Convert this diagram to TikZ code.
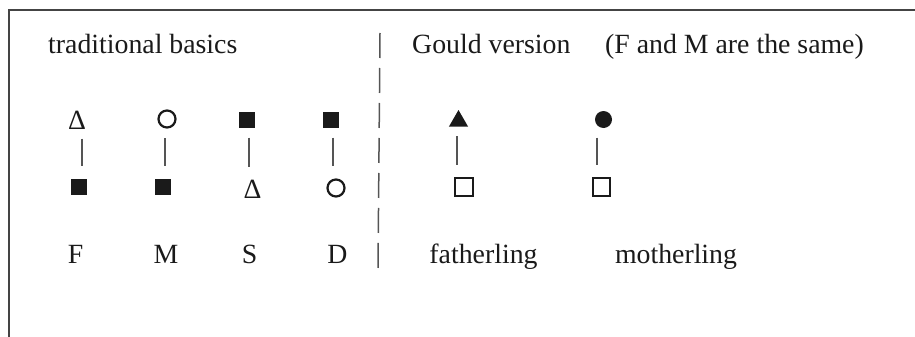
\documentclass[tikz,border=0pt]{standalone}
\usepackage{fontspec}
\setmainfont{Liberation Serif}
\usetikzlibrary{shapes.geometric}
\definecolor{ink}{HTML}{1A1A1A}
\definecolor{rule}{HTML}{444444}
\definecolor{conn}{HTML}{555555}
\tikzset{
  lbl/.style={inner sep=0pt, anchor=base, text=ink, font=\fontsize{27.8}{32}\selectfont},
  lblw/.style={lbl, anchor=base west},
  delta/.style={lbl},
  fsq/.style={rectangle, fill=ink, minimum size=16pt, inner sep=0pt},
  osq/.style={rectangle, draw=ink, line width=2pt, minimum size=17.5pt, inner sep=0pt},
  ocirc/.style={circle, draw=ink, line width=2.2pt, minimum size=17pt, inner sep=0pt},
  fcirc/.style={circle, fill=ink, minimum size=17pt, inner sep=0pt},
  ftri/.style={regular polygon, regular polygon sides=3, fill=ink, minimum size=22pt, inner sep=0pt},
  link/.style={draw=conn, line width=1.5pt, shorten <=9.5pt, shorten >=12pt},
  frame/.style={draw=rule, line width=2pt},
  divider/.style={draw=conn, line width=1.5pt, dash pattern=on 25pt off 10pt}
}
\begin{document}
\begin{tikzpicture}[x=1pt,y=-1pt]
\useasboundingbox (0,0) rectangle (915,337);
% frame
\coordinate (fr) at (915,10);
\coordinate (fc) at (8.5,10);
\coordinate (fb) at (8.5,337);
\draw[frame] (fr) -- (fc) -- (fb);
% headings
\node[lblw] (h1) at (48,53) {traditional basics};
\node[lblw] (h2) at (412,53) {Gould version};
\node[lblw] (h3) at (605,53) {(F and M are the same)};
% divider
\coordinate (d1) at (380,33);
\coordinate (d2) at (378,269);
\draw[divider] (d1) -- (d2);
% top row
\node[delta] (t1) at (77,129) {Δ};
\node[ocirc] (t2) at (167,119) {};
\node[fsq] (t3) at (246.5,120) {};
\node[fsq] (t4) at (330.5,120) {};
\node[ftri] (t5) at (458.5,121) {};
\node[fcirc] (t6) at (603.5,119.5) {};
% bottom row
\node[fsq] (b1) at (79,186.5) {};
\node[fsq] (b2) at (163,186.5) {};
\node[delta] (b3) at (252.5,198) {Δ};
\node[ocirc] (b4) at (336,188) {};
\node[osq] (b5) at (464,187) {};
\node[osq] (b6) at (601.5,187) {};
% connectors (x offsets as printed)
\foreach \i/\dx in {1/5,2/-2,3/2.5,4/2.5,5/-1.5,6/-6.5}{
  \draw[link] ([xshift=\dx pt]t\i.south) -- ([xshift=\dx pt]t\i.south |- b\i.north);
}
% labels
\node[lbl] (l1) at (75.5,263) {F};
\node[lbl] (l2) at (166,263) {M};
\node[lbl] (l3) at (249.5,263) {S};
\node[lbl] (l4) at (337.5,263) {D};
\node[lbl] (l5) at (483.5,263) {fatherling};
\node[lbl] (l6) at (676,263) {motherling};
\end{tikzpicture}
\end{document}
